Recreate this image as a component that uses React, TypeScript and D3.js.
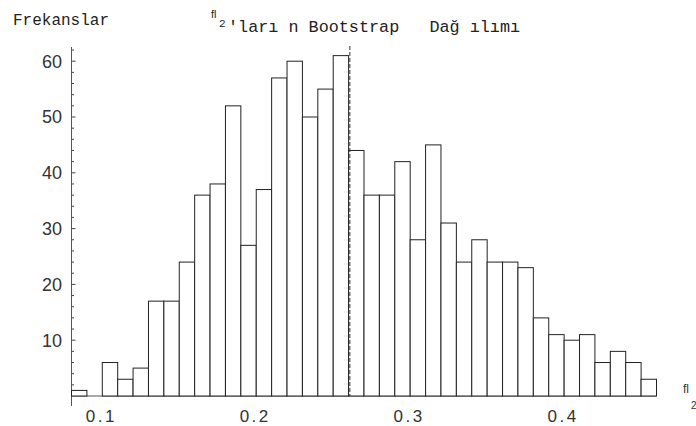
import React, { useEffect, useRef } from 'react';
import * as d3 from 'd3';

// bootstrap frequencies, one bin per 0.01 starting at 0.08
const binStart = 0.08;
const binWidth = 0.01;
const counts = [
  1, 0, 6, 3, 5, 17, 17, 24, 36, 38,
  52, 27, 37, 57, 60, 50, 55, 61, 44, 36,
  36, 42, 28, 45, 31, 24, 28, 24, 24, 23,
  14, 11, 10, 11, 6, 8, 6, 3,
];
const meanValue = 0.2608;
const xTickValues = [0.1, 0.2, 0.3, 0.4];
const yTickValues = [10, 20, 30, 40, 50, 60];
const yMinorTicks = [2, 4, 6, 8, 12, 14, 16, 18, 22, 24, 26, 28, 32, 34, 36, 38, 42, 44, 46, 48, 52, 54, 56, 58, 62];

const App = () => {
  const svgRef = useRef<SVGSVGElement>(null);

  useEffect(() => {
    const svg = d3.select(svgRef.current);
    svg.selectAll('*').remove();

    const width = 696;
    const height = 426;
    svg.attr('width', width).attr('height', height);

    const xScale = d3.scaleLinear().domain([0.08, 0.46]).range([71.5, 656.5]);
    const yScale = d3.scaleLinear().domain([0, 60]).range([396, 61.2]);

    const bins = counts.map((c, i) => ({
      x0: binStart + i * binWidth,
      x1: binStart + (i + 1) * binWidth,
      count: c,
    }));

    // axes
    svg.append('line')
      .attr('x1', xScale(0.08)).attr('x2', xScale(0.08))
      .attr('y1', 47).attr('y2', 406)
      .attr('stroke', '#555').attr('stroke-width', 1);

    svg.append('line')
      .attr('x1', xScale(0.08)).attr('x2', xScale(0.46))
      .attr('y1', yScale(0)).attr('y2', yScale(0))
      .attr('stroke', '#555').attr('stroke-width', 1);

    svg.selectAll('.ymajor')
      .data(yTickValues)
      .enter()
      .append('line')
      .attr('class', 'ymajor')
      .attr('x1', xScale(0.08)).attr('x2', xScale(0.08) + 4)
      .attr('y1', (d) => yScale(d)).attr('y2', (d) => yScale(d))
      .attr('stroke', '#444');

    svg.selectAll('.yminor')
      .data(yMinorTicks)
      .enter()
      .append('line')
      .attr('class', 'yminor')
      .attr('x1', xScale(0.08)).attr('x2', xScale(0.08) + 2.5)
      .attr('y1', (d) => yScale(d)).attr('y2', (d) => yScale(d))
      .attr('stroke', '#444');

    // bars
    svg.selectAll('.bar')
      .data(bins)
      .enter()
      .append('rect')
      .attr('class', 'bar')
      .attr('x', (d) => xScale(d.x0))
      .attr('width', (d) => xScale(d.x1) - xScale(d.x0))
      .attr('y', (d) => yScale(d.count))
      .attr('height', (d) => yScale(0) - yScale(d.count))
      .attr('fill', 'white')
      .attr('stroke', '#222')
      .attr('stroke-width', 1);

    // mean line
    svg.append('line')
      .attr('x1', xScale(meanValue)).attr('x2', xScale(meanValue))
      .attr('y1', 46).attr('y2', yScale(0))
      .attr('stroke', '#333')
      .attr('stroke-width', 1)
      .attr('stroke-dasharray', '4,2');

    // tick labels
    svg.selectAll('.xlabel')
      .data(xTickValues)
      .enter()
      .append('text')
      .attr('class', 'xlabel')
      .attr('x', (d) => xScale(d) - 1)
      .attr('y', 421.5)
      .attr('text-anchor', 'middle')
      .style('font-family', '"Liberation Sans", Arial, sans-serif')
      .style('font-size', '17px')
      .style('letter-spacing', '2.5px')
      .style('fill', '#333')
      .text((d) => d.toFixed(1));

    svg.selectAll('.ylabel')
      .data(yTickValues)
      .enter()
      .append('text')
      .attr('class', 'ylabel')
      .attr('x', 62)
      .attr('y', (d) => yScale(d) + 6.3)
      .attr('text-anchor', 'end')
      .style('font-family', '"Liberation Sans", Arial, sans-serif')
      .style('font-size', '18px')
      .style('fill', '#333')
      .text((d) => d);

    // y axis name
    svg.append('text')
      .attr('x', 13).attr('y', 25)
      .style('font-family', '"Liberation Mono", "DejaVu Sans Mono", monospace')
      .style('font-size', '16px')
      .style('fill', '#222')
      .text('Frekanslar');

    // title
    svg.append('text')
      .attr('x', 211).attr('y', 18)
      .style('font-family', '"Liberation Sans", sans-serif')
      .style('font-size', '11px')
      .style('fill', '#222')
      .text('fl');
    svg.append('text')
      .attr('x', 219).attr('y', 27)
      .style('font-family', '"Liberation Mono", monospace')
      .style('font-size', '11px')
      .style('fill', '#222')
      .text('2');
    svg.append('text')
      .attr('x', 228).attr('y', 32)
      .attr('xml:space', 'preserve')
      .style('white-space', 'pre')
      .style('font-family', '"Liberation Mono", "DejaVu Sans Mono", monospace')
      .style('font-size', '16.8px')
      .style('fill', '#222')
      .text("'ları n Bootstrap   Dağ ılımı");

    // x axis name
    svg.append('text')
      .attr('x', 683).attr('y', 393)
      .style('font-family', '"Liberation Sans", sans-serif')
      .style('font-size', '12px')
      .style('fill', '#333')
      .text('fl');
    svg.append('text')
      .attr('x', 691).attr('y', 409)
      .style('font-family', '"Liberation Sans", sans-serif')
      .style('font-size', '10px')
      .style('fill', '#333')
      .text('2');
  }, []);

  return (
    <svg ref={svgRef} style={{ position: 'absolute', left: 0, top: 0 }}></svg>
  );
};

export default App;
